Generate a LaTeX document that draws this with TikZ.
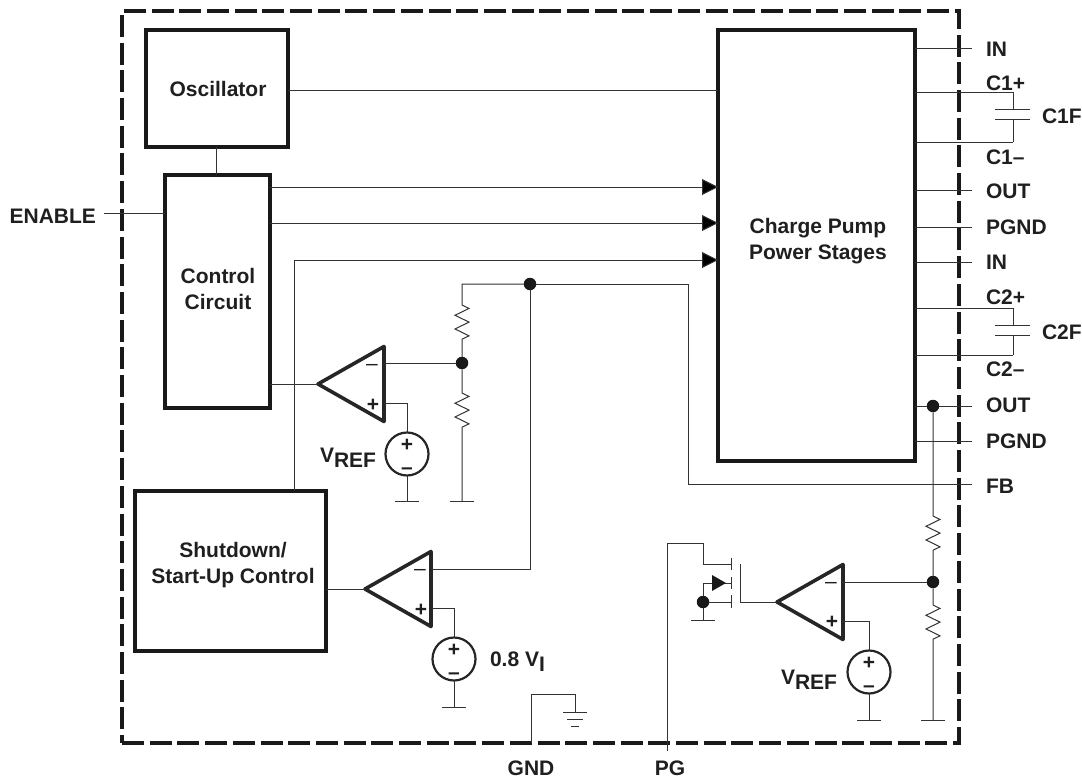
\documentclass[tikz,border=0pt]{standalone}
\usepackage{fontspec}
\setmainfont{Liberation Sans}
\usetikzlibrary{arrows.meta,shapes.geometric,decorations.pathmorphing}

\tikzset{
	every node/.style={font=\fontsize{21}{26}\selectfont\bfseries,text=labelgray,outer sep=0pt},
	wire/.style={line width=1pt,draw=wiregray},
	flow/.style={wire,-{Triangle[length=16pt,width=16pt,fill=black]}},
	block/.style={draw=black!90,line width=3.5pt,anchor=north west,inner sep=0pt},
	blocktext/.style={align=center,inner sep=0pt},
	chipframe/.style={draw=black!90,line width=3.6pt,anchor=north west,inner sep=0pt,dash pattern=on 22pt off 5.7pt},
	opamp/.style={draw=black!85,line width=3.6pt,line join=round,isosceles triangle,isosceles triangle stretches,shape border rotate=180,minimum width=75pt,minimum height=66pt,inner sep=0pt,anchor=apex},
	source/.style={circle,draw=black!85,line width=2.2pt,minimum size=43pt,inner sep=0pt},
	junction/.style={circle,fill=black!90,minimum size=12.5pt,inner sep=0pt},
	pin/.style={anchor=west,inner sep=0pt},
	sign/.style={inner sep=0pt},
	resistor/.style={decoration={zigzag,amplitude=7pt,segment length=13.7pt}}
}

\begin{document}
\begin{tikzpicture}[x=1pt,y=-1pt]
	\useasboundingbox (0,0) rectangle (1082,779);
	\definecolor{labelgray}{gray}{0.12}
	\definecolor{wiregray}{gray}{0.2}

	% package outline and blocks
	\node[chipframe,minimum width=837pt,minimum height=732pt] (chip) at (122,11) {};
	\node[block,minimum width=197pt,minimum height=431pt] (pump) at (718,30) {};
	\node[block,minimum width=142pt,minimum height=117pt] (osc) at (146,30) {};
	\node[block,minimum width=105pt,minimum height=233pt] (ctrl) at (165,175) {};
	\node[block,minimum width=191pt,minimum height=160pt] (shut) at (135,491) {};
	\node[blocktext] (pumptext) at (818,241) {Charge Pump\\Power Stages};
	\node[blocktext] (osctext) at (218,89) {Oscillator};
	\node[blocktext] (ctrltext) at (218,289) {Control\\Circuit};
	\node[blocktext] (shuttext) at (233,565) {Shutdown/\\Start-Up Control};

	% amplifiers and references
	\node[opamp] (ampA) at (318,384) {};
	\node[opamp] (ampB) at (365,589) {};
	\node[opamp] (ampC) at (777,602) {};
	\node[source] (srcA) at (407,454) {};
	\node[source] (srcB) at (454,659) {};
	\node[source] (srcC) at (869,672) {};
	\foreach \s in {srcA,srcB,srcC}{
		\node[sign] at ([yshift=9pt]\s.center) {+};
		\node[sign] at ([yshift=-17pt]\s.center) {--};
	}
	\node[sign] at (373,405) {+};
	\node[sign] at (372,367) {\mdseries --};
	\node[sign] at (421,610) {+};
	\node[sign] at (420,572) {\mdseries --};
	\node[sign] at (832,622) {+};
	\node[sign] at (831,585) {\mdseries --};

	% junctions
	\node[junction] (fbtop) at (530,284) {};
	\node[junction] (tapA) at (462,363) {};
	\node[junction] (tapC) at (933,582) {};
	\node[junction] (outdot) at (933,406) {};
	\node[junction] (srcdot) at (703,602) {};

	% pin ends
	\coordinate (inA) at (972,48);
	\coordinate (cpA) at (1013,92);
	\coordinate (cmA) at (1013,142);
	\coordinate (outA) at (972,190);
	\coordinate (pgA) at (972,227);
	\coordinate (inB) at (972,262);
	\coordinate (cpB) at (1013,308);
	\coordinate (cmB) at (1013,355);
	\coordinate (outB) at (972,406);
	\coordinate (pgB) at (972,441);
	\coordinate (fbend) at (972,484);
	\coordinate (enend) at (104,213);
	\foreach \p in {inA,cpA,cmA,outA,pgA,inB,cpB,cmB,pgB}{
		\draw[wire] (pump.east |- \p) -- (\p);
	}
	\draw[wire] (pump.east |- outB) -- (outdot) -- (outB);
	\node[pin] (lblinA) at (986,49) {IN};
	\node[pin] (lblcpA) at (986,83) {C1+};
	\node[pin] (lblcfA) at (1042,116) {C1F};
	\node[pin] (lblcmA) at (986,157) {C1--};
	\node[pin] (lbloutA) at (986,191) {OUT};
	\node[pin] (lblpgA) at (986,227) {PGND};
	\node[pin] (lblinB) at (986,262) {IN};
	\node[pin] (lblcpB) at (986,297) {C2+};
	\node[pin] (lblcfB) at (1042,332) {C2F};
	\node[pin] (lblcmB) at (986,369) {C2--};
	\node[pin] (lbloutB) at (986,405) {OUT};
	\node[pin] (lblpgB) at (986,441) {PGND};
	\node[pin] (lblfb) at (986,486) {FB};
	\node[pin,anchor=east] (lblen) at (96,216) {ENABLE};
	\node[sign] (lblgnd) at (531,768) {GND};
	\node[sign] (lblpg) at (670,768) {PG};
	\node[pin] (lblrefA) at (320,458) {V\raisebox{-5pt}{REF}};
	\node[pin] (lblrefC) at (781,680) {V\raisebox{-5pt}{REF}};
	\node[pin] (lblvi) at (490,662) {0.8 V\raisebox{-5pt}{I}};

	% flying capacitors
	\foreach \c/\y in {A/109,B/325}{
		\coordinate (plate\c) at (1013,\y);
		\draw[wire] ([xshift=-18pt]plate\c) -- ([xshift=17pt]plate\c);
		\draw[wire] ([xshift=-18pt,yshift=-10pt]plate\c) -- ([xshift=17pt,yshift=-10pt]plate\c);
	}
	\draw[wire] (cpA) -- (plateA);
	\draw[wire] ([yshift=-10pt]plateA) -- (cmA);
	\draw[wire] (cpB) -- (plateB);
	\draw[wire] ([yshift=-10pt]plateB) -- (cmB);

	% control lines
	\draw[wire] (osc.east |- 0,90) -- (pump.west |- 0,90);
	\draw[wire] (osc.south -| 216,0) -- (ctrl.north -| 216,0);
	\draw[wire] (enend) -- (ctrl.west |- enend);
	\draw[flow] (ctrl.east |- 0,187) -- (pump.west |- 0,187);
	\draw[flow] (ctrl.east |- 0,223) -- (pump.west |- 0,223);
	\draw[flow] (shut.north -| 294,0) -- (294,260) -- (pump.west |- 0,260);
	\draw[wire] (ctrl.east |- ampA.apex) -- (ampA.apex);
	\draw[wire] (shut.east |- ampB.apex) -- (ampB.apex);

	% feedback dividers
	\coordinate (fbcorner) at (462,284);
	\draw[wire] (fbtop) -- (fbcorner) -- (462,305) decorate[resistor] {-- (462,346)} -- (tapA);
	\draw[wire] (tapA) -- (462,393) decorate[resistor] {-- (462,434)} -- (462,501);
	\draw[wire] (fbtop) -- (688,284) -- (688,484) -- (fbend);
	\draw[wire] (fbtop) -- (530,569) -- (432,569);
	\draw[wire] (tapA) -- (384,363);
	\draw[wire] (outdot) -- (933,516) decorate[resistor] {-- (933,557)} -- (tapC);
	\draw[wire] (tapC) -- (933,605) decorate[resistor] {-- (933,646)} -- (933,720);
	\draw[wire] (tapC) -- (842,582);

	% reference wires
	\coordinate (plusA) at (384,403);
	\coordinate (plusB) at (432,608);
	\coordinate (plusC) at (842,621);
	\draw[wire] (plusA) -| (srcA.north);
	\draw[wire] (plusB) -| (srcB.north);
	\draw[wire] (plusC) -| (srcC.north);
	\coordinate (gndA) at (407,501);
	\coordinate (gndB) at (462,501);
	\coordinate (gndC) at (454,707);
	\coordinate (gndD) at (869,720);
	\coordinate (gndE) at (933,720);
	\coordinate (gndF) at (703,620);
	\draw[wire] (srcA.south) -- (gndA);
	\draw[wire] (srcB.south) -- (gndC);
	\draw[wire] (srcC.south) -- (gndD);
	\draw[wire] (srcdot) -- (gndF);
	\foreach \g in {gndA,gndB,gndC,gndD,gndE,gndF}{
		\draw[wire] ([xshift=-12pt]\g) -- ([xshift=12pt]\g);
	}

	% ground pin
	\coordinate (gndpin) at (531,743);
	\coordinate (earth) at (575,712);
	\draw[wire] (gndpin) -- (531,694) -| (earth);
	\draw[wire] ([xshift=-12pt]earth) -- ([xshift=12pt]earth);
	\draw[wire] ([xshift=-8pt,yshift=-7pt]earth) -- ([xshift=8pt,yshift=-7pt]earth);
	\draw[wire] ([xshift=-4pt,yshift=-14pt]earth) -- ([xshift=4pt,yshift=-14pt]earth);

	% output transistor
	\coordinate (pgend) at (667,751);
	\coordinate (drain) at (731,564);
	\coordinate (body) at (731,583);
	\coordinate (source) at (731,602);
	\coordinate (gate) at (740,602);
	\draw[wire] (pgend) -- (667,543) -| (703,564) -- (drain);
	\draw[wire] (731,558) -- (731,570);
	\draw[wire] (731,577) -- (731,589);
	\draw[wire] (731,595) -- (731,608);
	\draw[wire] (740,564) -- (gate) -- (ampC.apex);
	\draw[wire] (srcdot) -- (703,583) -- (body);
	\draw[wire] (srcdot) -- (source);
	\fill[black!90] (712,575) -- (726,583) -- (712,591) -- cycle;
\end{tikzpicture}
\end{document}
